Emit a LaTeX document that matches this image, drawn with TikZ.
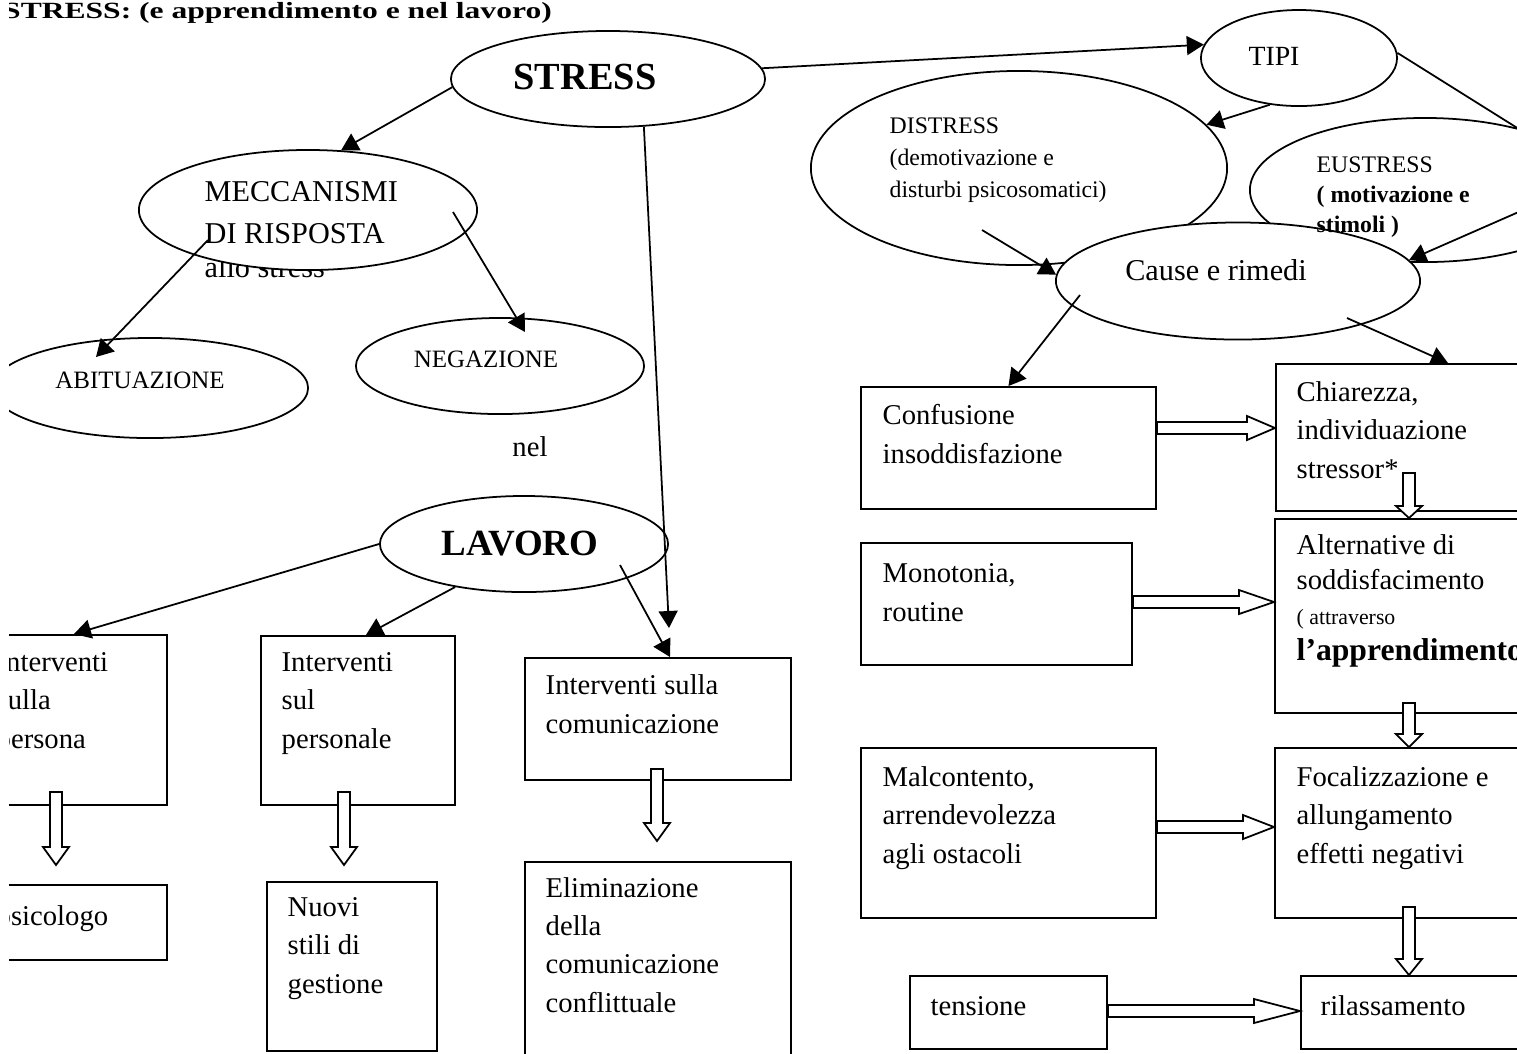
\documentclass[tikz,border=0pt]{standalone}
\usepackage{fontspec}
\setmainfont{Liberation Serif}
\usepackage{graphicx}
\usepackage{tikz}
\usetikzlibrary{arrows.meta,positioning,shapes.geometric,calc}
\newcommand{\fsz}[2]{\fontsize{#1}{#2}\selectfont}
\newcommand{\hollowdown}[3]{%
  \path (#1) coordinate (ha) (#2) coordinate (hz) (ha |- hz) coordinate (hb);
  \draw[hol] ($(ha)+(-6,0)$) -- ($(hb)+(-6,-#3)$) -- ($(hb)+(-13,-#3)$) -- (hb)
    -- ($(hb)+(13,-#3)$) -- ($(hb)+(6,-#3)$) -- ($(ha)+(6,0)$) -- cycle;}
\newcommand{\hollowright}[3]{%
  \path (#1) coordinate (ha) (#2) coordinate (hz) (hz |- ha) coordinate (hb);
  \draw[hol] ($(ha)+(0,-6)$) -- ($(hb)+(-#3,-6)$) -- ($(hb)+(-#3,-12)$) -- (hb)
    -- ($(hb)+(-#3,12)$) -- ($(hb)+(-#3,6)$) -- ($(ha)+(0,6)$) -- cycle;}
\tikzset{
  ell/.style={draw,ellipse,fill=white,line width=0.5pt,inner sep=0pt},
  box/.style={draw,fill=white,line width=0.5pt,inner sep=0pt,anchor=north west},
  txt/.style={inner sep=0pt,align=left,anchor=base west,font=\fsz{8.15}{10.9}},
  arr/.style={-{Triangle[length=0.17cm,width=0.19cm]},line width=0.5pt},
  hol/.style={draw,fill=white,line width=0.5pt},
}

\begin{document}
\begin{tikzpicture}[x=0.01cm,y=-0.01cm]
  \useasboundingbox (0,0) rectangle (1517,1053);
  \begin{scope}
  \clip (9,-10) rectangle (1517,1060);
  \node[txt,font=\bfseries\fsz{6.6}{7}] (title) at (2.5,18) {\scalebox{1.36}[1]{STRESS: (e apprendimento e nel lavoro)}};
  \node[txt,font=\fsz{8.6}{11.7}] (allo-t) at (204,277) {allo stress};
  % ellipses
  \node[ell,minimum width=3.14cm,minimum height=0.96cm] (stress) at (608,79) {};
  \node[ell,minimum width=1.96cm,minimum height=0.96cm] (tipi) at (1299,58) {};
  \node[ell,minimum width=4.16cm,minimum height=1.94cm] (distress) at (1019,168) {};
  \node[ell,minimum width=3.50cm,minimum height=1.44cm] (eustress) at (1425,190) {};
  \node[ell,minimum width=3.64cm,minimum height=1.17cm] (cause) at (1238,281) {};
  \node[ell,minimum width=3.38cm,minimum height=1.20cm] (mecc) at (308,210) {};
  \node[ell,minimum width=3.16cm,minimum height=1.00cm] (abit) at (150,388) {};
  \node[ell,minimum width=2.88cm,minimum height=0.96cm] (neg) at (500,366) {};
  \node[ell,minimum width=2.88cm,minimum height=0.96cm] (lavoro) at (524,544) {};
  % boxes
  \node[box,minimum width=1.86cm,minimum height=1.70cm] (persona) at (-20,634) {};
  \node[box,minimum width=1.86cm,minimum height=0.75cm] (psico) at (-20,884) {};
  \node[box,minimum width=1.94cm,minimum height=1.69cm] (personale) at (260,635) {};
  \node[box,minimum width=1.70cm,minimum height=1.69cm] (nuovi) at (266,881) {};
  \node[box,minimum width=2.66cm,minimum height=1.22cm] (comun) at (524,657) {};
  \node[box,minimum width=2.66cm,minimum height=2.20cm] (elim) at (524,861) {};
  \node[box,minimum width=2.95cm,minimum height=1.22cm] (conf) at (860,386) {};
  \node[box,minimum width=2.71cm,minimum height=1.22cm] (mono) at (860,542) {};
  \node[box,minimum width=2.95cm,minimum height=1.70cm] (mal) at (860,747) {};
  \node[box,minimum width=1.97cm,minimum height=0.73cm] (tens) at (909,975) {};
  \node[box,minimum width=3.44cm,minimum height=1.47cm] (chiar) at (1275,363) {};
  \node[box,minimum width=3.00cm,minimum height=1.94cm] (alt) at (1274,518) {};
  \node[box,minimum width=3.00cm,minimum height=1.70cm] (foc) at (1274,747) {};
  \node[box,minimum width=3.00cm,minimum height=0.73cm] (ril) at (1300,975) {};
  % texts (multi-line ones sit on the baseline of their last line)
  \node[txt,anchor=base,font=\bfseries\fsz{10.9}{12}] (stress-t) at (585,89) {STRESS};
  \node[txt,anchor=base,font=\fsz{7.9}{9}] (tipi-t) at (1274,65) {TIPI};
  \node[txt,font=\fsz{6.75}{9.1}] (distress-t) at (889,197) {DISTRESS\\(demotivazione e\\disturbi psicosomatici)};
  \node[txt,font=\fsz{6.75}{8.4}] (eustress-t) at (1316,232) {EUSTRESS\\\textbf{( motivazione e}\\\textbf{stimoli )}};
  \node[txt,anchor=base,font=\fsz{8.6}{10}] (cause-t) at (1216,280) {Cause e rimedi};
  \node[txt,font=\fsz{8.6}{11.7}] (mecc-t) at (204,243) {MECCANISMI\\DI RISPOSTA};
  \node[txt,anchor=base,font=\fsz{7.1}{8}] (abit-t) at (140,388) {ABITUAZIONE};
  \node[txt,anchor=base,font=\fsz{7.1}{8}] (neg-t) at (486,367) {NEGAZIONE};
  \node[txt,anchor=base] (nel) at (530,456) {nel};
  \node[txt,anchor=base,font=\bfseries\fsz{10.5}{12}] (lavoro-t) at (520,555) {LAVORO};
  \node[txt] (persona-t) at (-4,748) {Interventi\\sulla\\persona};
  \node[txt] (psico-t) at (-4,925) {psicologo};
  \node[txt] (personale-t) at (281,748) {Interventi\\sul\\personale};
  \node[txt] (nuovi-t) at (287,993) {Nuovi\\stili di\\gestione};
  \node[txt] (comun-t) at (545,733) {Interventi sulla\\comunicazione};
  \node[txt] (elim-t) at (545,1012) {Eliminazione\\della\\comunicazione\\conflittuale};
  \node[txt] (conf-t) at (882,463) {Confusione\\insoddisfazione};
  \node[txt] (mono-t) at (882,621) {Monotonia,\\routine};
  \node[txt] (mal-t) at (882,863) {Malcontento,\\arrendevolezza\\agli ostacoli};
  \node[txt] (tens-t) at (930,1015) {tensione};
  \node[txt] (chiar-t) at (1296,478) {Chiarezza,\\individuazione\\stressor*};
  \node[txt,font=\fsz{8.15}{10}] (alt-t) at (1296,660) {Alternative di\\soddisfacimento\\{\fsz{6.2}{7}( attraverso}\\{\bfseries\fsz{9}{10}l'apprendimento}};
  \node[txt] (foc-t) at (1296,863) {Focalizzazione e\\allungamento\\effetti negativi};
  \node[txt] (ril-t) at (1320,1015) {rilassamento};
  % connectors
  \coordinate (eu-out) at (1530,207);
  \coordinate (comun-in) at (669,628);
  \draw[arr] (stress.4) -- (tipi.172);
  \draw[arr] (tipi.238) -- (distress.13.5);
  \draw[line width=0.5pt] (tipi.3) -- (eustress.34);
  \draw[arr] (eu-out) -- (cause.7);
  \draw[arr] ($(distress.center)+(-37,62)$) -- (cause.178);
  \draw[arr] ($(cause.center)+(-158,14)$) -- (conf.north);
  \draw[arr] ($(cause.center)+(109,37)$) -- (chiar.north);
  \draw[arr] (stress.183) -- (mecc.61);
  \draw[arr] ($(mecc.center)+(-100,30)$) -- ($(abit.center)+(-54,-31)$);
  \draw[arr] ($(mecc.center)+(145,2)$) -- ($(neg.center)+(25,-34)$);
  \draw[arr] (stress.307) -- (comun-in);
  \draw[arr] (lavoro.west) -- (persona.north);
  \draw[arr] (lavoro.212) -- ($(personale.north)+(8,0)$);
  \draw[arr] ($(lavoro.center)+(96,21)$) -- ($(comun.north west)+(146,0)$);
  \hollowright{conf.east |- 0,428}{chiar.west}{28}
  \hollowright{mono.east |- 0,602}{alt.west}{35}
  \hollowright{mal.east |- 0,827}{foc.west}{31}
  \hollowright{tens.east |- 0,1011}{ril.west}{46}
  \hollowdown{1409,473}{alt.north}{12}
  \hollowdown{1409,703}{foc.north}{13}
  \hollowdown{1409,907}{ril.north}{16}
  \hollowdown{56,792}{56,865}{18}
  \hollowdown{344,792}{344,865}{18}
  \hollowdown{657,769}{657,841}{18}
  \end{scope}
\end{tikzpicture}
\end{document}
